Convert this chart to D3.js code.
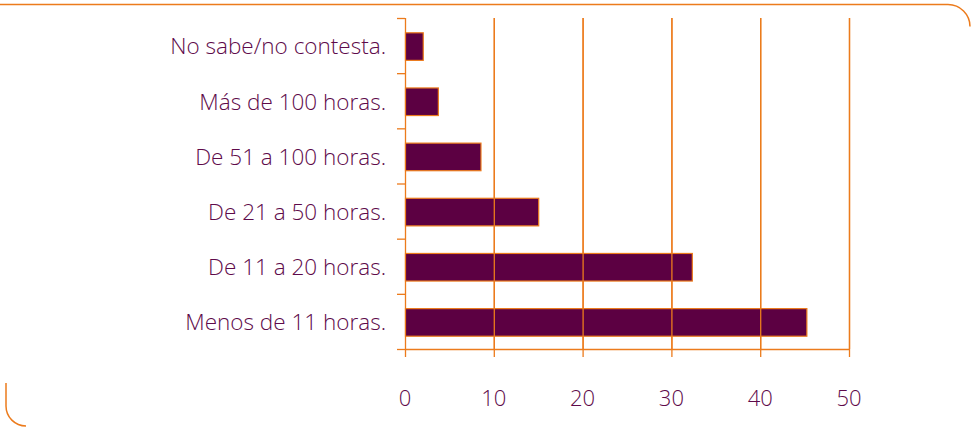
<!DOCTYPE html>
<html>
<head>
<meta charset="utf-8">
<script src="https://cdn.jsdelivr.net/npm/d3@7"></script>
<style>
  body { margin: 0; background: #fff; }
  svg text { font-family: "Open Sans", "Noto Sans", sans-serif; font-weight: 300; fill: #5e0a4a; }
</style>
</head>
<body>
<div id="chart"></div>
<script>
// categories top to bottom as drawn
const categories = [
  "No sabe/no contesta.",
  "Más de 100 horas.",
  "De 51 a 100 horas.",
  "De 21 a 50 horas.",
  "De 11 a 20 horas.",
  "Menos de 11 horas."
];
const values = [2, 3.7, 8.5, 15, 32.3, 45.2];
const xTicks = [0, 10, 20, 30, 40, 50];

const W = 971, H = 427;
const orange = "#ec7b1c", bar = "#5c0042";
const margin = { top: 18, left: 405, right: 122, bottom: 78 };

const svg = d3.select("#chart").append("svg")
  .attr("width", W).attr("height", H);

// frame decoration
svg.append("path")
  .attr("d", "M0,4.5 H948 A22,22 0 0 1 970,26.5")
  .attr("fill", "none").attr("stroke", orange).attr("stroke-width", 1.5);
svg.append("path")
  .attr("d", "M6,383 V406 A20,20 0 0 0 26,426")
  .attr("fill", "none").attr("stroke", orange).attr("stroke-width", 1.5);

const x = d3.scaleLinear().domain([0, 50]).range([margin.left, W - margin.right]);
const y = d3.scaleBand().domain(categories)
  .range([margin.top, H - margin.bottom]).paddingInner(0.5).paddingOuter(0.25);
const yAxisBottom = H - margin.bottom;

// vertical grid lines, extended as ticks below the axis
svg.append("g").selectAll("line").data(xTicks).join("line")
  .attr("x1", d => x(d) + 0.5).attr("x2", d => x(d) + 0.5)
  .attr("y1", margin.top).attr("y2", yAxisBottom + 8)
  .attr("stroke", orange).attr("stroke-width", 1.3);

// y-axis ticks between categories
const bandStep = y.step();
const yTickPos = d3.range(categories.length + 1).map(i => margin.top + i * bandStep);
svg.append("g").selectAll("line").data(yTickPos).join("line")
  .attr("x1", x(0) - 8).attr("x2", x(0))
  .attr("y1", d => d + 0.5).attr("y2", d => d + 0.5)
  .attr("stroke", orange).attr("stroke-width", 1.3);

// x axis line
svg.append("line")
  .attr("x1", x(0)).attr("x2", x(50))
  .attr("y1", yAxisBottom + 0.5).attr("y2", yAxisBottom + 0.5)
  .attr("stroke", orange).attr("stroke-width", 1.3);

// bars
svg.append("g").selectAll("rect").data(values).join("rect")
  .attr("x", x(0) + 0.5)
  .attr("y", (d, i) => y(categories[i]) + 1)
  .attr("width", d => x(d) - x(0))
  .attr("height", y.bandwidth())
  .attr("fill", bar)
  .attr("stroke", orange).attr("stroke-width", 1.2);

// grid lines over bars (they show through the bars)
svg.append("g").selectAll("line").data(xTicks.slice(1)).join("line")
  .attr("x1", d => x(d) + 0.5).attr("x2", d => x(d) + 0.5)
  .attr("y1", margin.top).attr("y2", yAxisBottom)
  .attr("stroke", orange).attr("stroke-width", 1.3);

// category labels
svg.append("g").selectAll("text").data(categories).join("text")
  .attr("x", 386)
  .attr("y", d => y(d) + y.bandwidth() / 2 + 1)
  .attr("dy", "0.35em")
  .attr("text-anchor", "end")
  .attr("font-size", 22.5)
  .text(d => d);

// x tick labels
svg.append("g").selectAll("text").data(xTicks).join("text")
  .attr("x", d => x(d))
  .attr("y", 406)
  .attr("text-anchor", "middle")
  .attr("font-size", 22)
  .text(d => d);
</script>
</body>
</html>
